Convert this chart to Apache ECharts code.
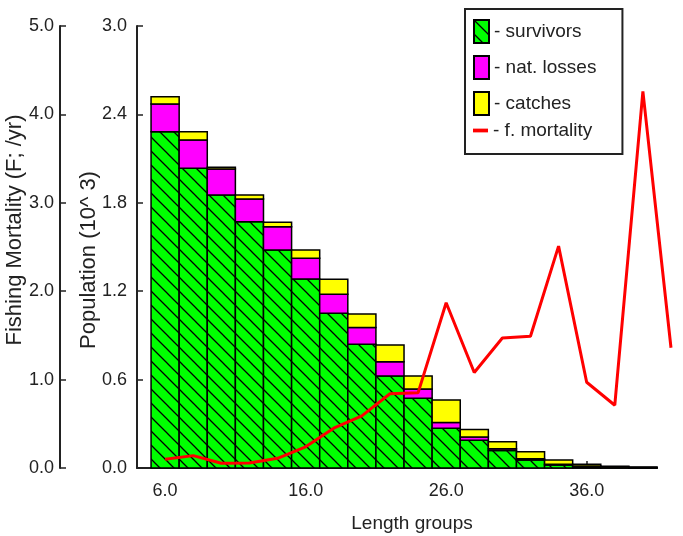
<!DOCTYPE html>
<html>
<head>
<meta charset="utf-8">
<script src="https://cdn.jsdelivr.net/npm/echarts@6/dist/echarts.min.js"></script>
<style>
  html, body { margin: 0; padding: 0; background: #fff; }
  #chart { width: 683px; height: 536px; }
</style>
</head>
<body>
<div id="chart"></div>
<script>
// Length groups (cm) for the population bars
const lengthGroups = [6, 8, 10, 12, 14, 16, 18, 20, 22, 24, 26, 28, 30, 32, 34, 36, 38, 40];
// Population components, thousands of fish
const survivors = [2.283, 2.035, 1.853, 1.672, 1.480, 1.283, 1.050, 0.840, 0.625, 0.473, 0.270, 0.188, 0.118, 0.054, 0.020, 0.010, 0.004, 0.002];
const natLosses = [0.188, 0.192, 0.177, 0.154, 0.158, 0.141, 0.129, 0.113, 0.097, 0.063, 0.038, 0.022, 0.012, 0.008, 0.005, 0.003, 0.002, 0.001];
const catches   = [0.048, 0.056, 0.011, 0.027, 0.030, 0.056, 0.102, 0.092, 0.113, 0.089, 0.154, 0.052, 0.048, 0.049, 0.029, 0.012, 0.006, 0.004];
// Fishing mortality by length group (per year)
const fLengths = [6, 8, 10, 12, 14, 16, 18, 20, 22, 24, 26, 28, 30, 32, 34, 36, 38, 40, 42];
const fMortality = [0.10, 0.14, 0.053, 0.057, 0.11, 0.24, 0.45, 0.59, 0.84, 0.85, 1.87, 1.08, 1.47, 1.49, 2.51, 0.97, 0.71, 4.26, 1.36];
// Axis tick labels
const xTickValues = [6, 16, 26, 36];

const FONT = 'Liberation Sans, Arial, sans-serif';
const INK = '#222';
const CLASS_WIDTH = 2; // each bar spans one 2 cm length class

// Green fill with black back-diagonal hatching for the survivors
function hatchPattern() {
  const c = document.createElement('canvas');
  c.width = 14; c.height = 14;
  const g = c.getContext('2d');
  g.fillStyle = '#00ff00';
  g.fillRect(0, 0, 14, 14);
  g.strokeStyle = '#000';
  g.lineWidth = 1.3;
  g.beginPath();
  g.moveTo(-2, -2); g.lineTo(16, 16);
  g.moveTo(-2, 12); g.lineTo(2, 16);
  g.moveTo(12, -2); g.lineTo(16, 2);
  g.stroke();
  return c;
}

// Stack the three components: each item is [length, lower, upper]
const lowerNat = survivors;
const lowerCatch = survivors.map((s, i) => s + natLosses[i]);
const survivorRects = lengthGroups.map((x, i) => [x, 0, survivors[i]]);
const natRects = lengthGroups.map((x, i) => [x, lowerNat[i], lowerNat[i] + natLosses[i]]);
const catchRects = lengthGroups.map((x, i) => [x, lowerCatch[i], lowerCatch[i] + catches[i]]);

function stackedBar(name, rects, fill) {
  return {
    name: name,
    type: 'custom',
    coordinateSystem: 'cartesian2d',
    xAxisIndex: 0,
    yAxisIndex: 0,
    data: rects,
    encode: { x: 0, y: [1, 2] },
    itemStyle: { color: fill, borderColor: '#000', borderWidth: 1.5 },
    renderItem: function (params, api) {
      const x = api.value(0);
      const lo = api.coord([x - CLASS_WIDTH / 2, api.value(1)]);
      const hi = api.coord([x + CLASS_WIDTH / 2, api.value(2)]);
      return {
        type: 'rect',
        shape: { x: lo[0], y: hi[1], width: hi[0] - lo[0], height: lo[1] - hi[1] },
        style: { fill: fill, stroke: '#000', lineWidth: 1.5 }
      };
    }
  };
}

const chart = echarts.init(document.getElementById('chart'), null, { renderer: 'canvas' });

const hatch = { image: hatchPattern(), repeat: 'repeat' };

chart.setOption({
  backgroundColor: '#fff',
  animation: false,
  grid: [
    // main plot
    { left: 137, top: 26, right: 26, bottom: 68, outerBoundsMode: 'none' },
    // same plot area, reaching one class further right for the mortality curve
    { left: 137, top: 26, right: 12, bottom: 68, outerBoundsMode: 'none' }
  ],
  legend: [
    {
      data: ['survivors', 'nat. losses', 'catches'],
      orient: 'vertical',
      left: 465, top: 9,
      padding: [10, 26, 38, 8],
      itemWidth: 15, itemHeight: 23, itemGap: 11,
      icon: 'rect',
      borderColor: INK, borderWidth: 2,
      formatter: n => '- ' + n,
      textStyle: { fontSize: 19, color: INK, fontFamily: FONT },
      selectedMode: false
    },
    {
      data: [{ name: 'f. mortality', icon: 'path://M0,0H16V4H0Z' }],
      orient: 'vertical',
      left: 473, top: 121,
      padding: 0,
      itemWidth: 15, itemHeight: 14,
      formatter: n => '- ' + n,
      textStyle: { fontSize: 19, color: INK, fontFamily: FONT },
      selectedMode: false
    }
  ],
  xAxis: [
    {
      type: 'value',
      gridIndex: 0,
      min: 4, max: 41,
      name: 'Length groups',
      nameLocation: 'middle',
      nameGap: 46,
      nameMoveOverlap: false,
      nameTextStyle: { fontSize: 19, color: INK, fontFamily: FONT, padding: [0, 0, 0, 30] },
      axisLine: { show: true, onZero: false, lineStyle: { color: INK, width: 2 } },
      axisTick: { show: true, inside: true, length: 7, customValues: xTickValues, lineStyle: { color: INK, width: 1.5 } },
      axisLabel: { customValues: xTickValues, formatter: v => v.toFixed(1), margin: 14, fontSize: 18, color: INK, fontFamily: FONT },
      splitLine: { show: false }
    },
    {
      type: 'value',
      gridIndex: 1,
      min: 4, max: 42,
      show: false
    }
  ],
  yAxis: [
    {
      type: 'value',
      gridIndex: 0,
      min: 0, max: 3, interval: 0.6,
      position: 'left',
      name: 'Population (10^ 3)',
      nameLocation: 'middle',
      nameGap: 37,
      nameMoveOverlap: false,
      nameTextStyle: { fontSize: 22, color: INK, fontFamily: FONT, padding: [0, 26, 0, 0] },
      axisLine: { show: true, lineStyle: { color: INK, width: 2 } },
      axisTick: { show: true, inside: true, length: 6, lineStyle: { color: INK, width: 1.5 } },
      axisLabel: { formatter: v => v.toFixed(1), margin: 10, fontSize: 18, color: INK, fontFamily: FONT },
      splitLine: { show: false }
    },
    {
      type: 'value',
      gridIndex: 0,
      min: 0, max: 5, interval: 1,
      position: 'left',
      offset: 77,
      name: 'Fishing Mortality (F; /yr)',
      nameLocation: 'middle',
      nameGap: 34,
      nameMoveOverlap: false,
      nameTextStyle: { fontSize: 22, color: INK, fontFamily: FONT, padding: [0, 0, 0, 34] },
      axisLine: { show: true, lineStyle: { color: INK, width: 2 } },
      axisTick: { show: true, inside: true, length: 6, lineStyle: { color: INK, width: 1.5 } },
      axisLabel: { formatter: v => v.toFixed(1), margin: 6, fontSize: 18, color: INK, fontFamily: FONT },
      splitLine: { show: false }
    },
    {
      type: 'value',
      gridIndex: 1,
      min: 0, max: 5,
      show: false
    }
  ],
  series: [
    stackedBar('survivors', survivorRects, hatch),
    stackedBar('nat. losses', natRects, '#ff00ff'),
    stackedBar('catches', catchRects, '#ffff00'),
    {
      name: 'f. mortality',
      type: 'line',
      xAxisIndex: 1,
      yAxisIndex: 2,
      data: fLengths.map((x, i) => [x, fMortality[i]]),
      showSymbol: false,
      symbol: 'none',
      z: 5,
      itemStyle: { color: '#ff0000' },
      lineStyle: { color: '#ff0000', width: 3 }
    }
  ]
});
</script>
</body>
</html>
